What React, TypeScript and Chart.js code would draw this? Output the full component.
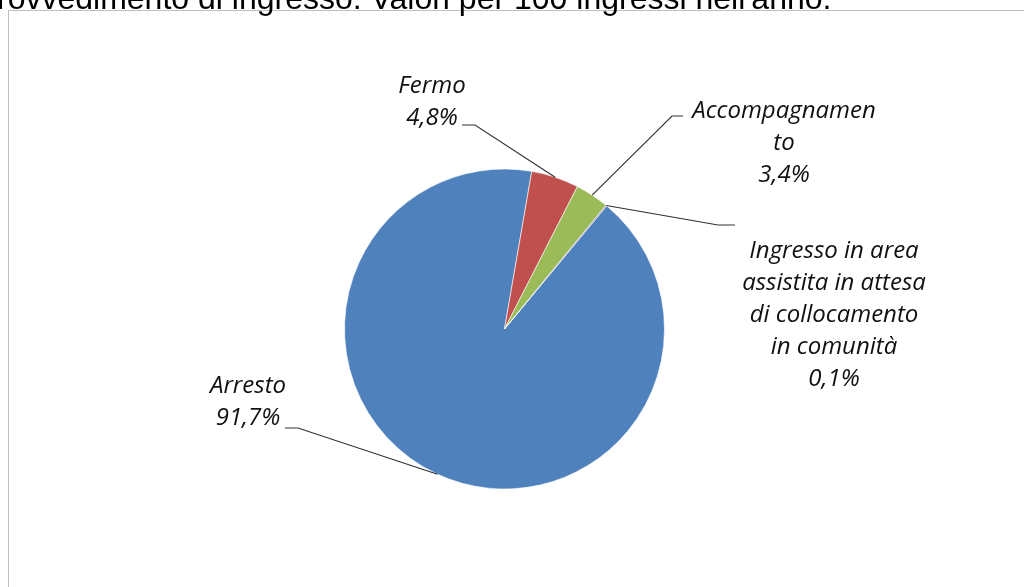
import React, { useEffect, useRef } from "react";
import { Chart, registerables } from "chart.js";

Chart.register(...registerables);

const TITLE = "rovvedimento di ingresso. Valori per 100 ingressi nell'anno.";

const categories = [
  "Arresto",
  "Fermo",
  "Accompagnamento",
  "Ingresso in area assistita in attesa di collocamento in comunità",
];
const values = [91.7, 4.8, 3.4, 0.1];
const colors = ["#4F81BD", "#C0504D", "#9BBB59", "#8064A2"];
const nameLines = [
  ["Arresto"],
  ["Fermo"],
  ["Accompagnamen", "to"],
  ["Ingresso in area", "assistita in attesa", "di collocamento", "in comunità"],
];

const pct = (v: number) => v.toFixed(1).replace(".", ",") + "%";

// label layout: centre x, first baseline, elbow points (text side -> arc side)
const labelLayout = [
  { cx: 248, y0: 393, elbow: [[285, 428], [298, 428]] },
  { cx: 432, y0: 93, elbow: [[462, 125], [475, 125]] },
  { cx: 784, y0: 118, elbow: [[683, 116], [672, 116]] },
  { cx: 834, y0: 258, elbow: [[735, 225], [718, 225]] },
];

const LABEL_FONT = "italic 24px 'Open Sans'";
const LINE_H = 32;

const decorPlugin = {
  id: "decor",
  beforeDraw(chart: any) {
    const ctx = chart.ctx;
    ctx.save();
    ctx.fillStyle = "#ffffff";
    ctx.fillRect(0, 0, chart.width, chart.height);
    ctx.strokeStyle = "#BFBFBF";
    ctx.lineWidth = 1;
    ctx.strokeRect(8.5, 10.5, 1200, 800);
    ctx.fillStyle = "#000000";
    ctx.font = "32px 'Liberation Sans'";
    ctx.textBaseline = "alphabetic";
    ctx.textAlign = "left";
    ctx.fillText(TITLE, -3, 8.7);
    ctx.restore();
  },
  afterDraw(chart: any) {
    const ctx = chart.ctx;
    const meta = chart.getDatasetMeta(0);
    ctx.save();
    meta.data.forEach((arc: any, i: number) => {
      const lay = labelLayout[i];
      const mid = (arc.startAngle + arc.endAngle) / 2;
      const ax = arc.x + Math.cos(mid) * arc.outerRadius;
      const ay = arc.y + Math.sin(mid) * arc.outerRadius;
      ctx.strokeStyle = "#303030";
      ctx.lineWidth = 1.1;
      ctx.beginPath();
      ctx.moveTo(lay.elbow[0][0], lay.elbow[0][1]);
      ctx.lineTo(lay.elbow[1][0], lay.elbow[1][1]);
      ctx.lineTo(ax, ay);
      ctx.stroke();
      const lines = [...nameLines[i], pct(values[i])];
      ctx.fillStyle = "#111111";
      ctx.font = LABEL_FONT;
      ctx.textAlign = "center";
      ctx.textBaseline = "alphabetic";
      lines.forEach((t, k) => ctx.fillText(t, lay.cx, lay.y0 + k * LINE_H));
    });
    ctx.restore();
  },
};

export default function App() {
  const ref = useRef<HTMLCanvasElement>(null);
  useEffect(() => {
    if (!ref.current) return;
    const chart = new Chart(ref.current, {
      type: "pie",
      data: {
        labels: categories,
        datasets: [
          {
            data: values,
            backgroundColor: colors,
            borderColor: "#ffffff",
            borderWidth: 0.6,
          },
        ],
      },
      options: {
        responsive: false,
        animation: false,
        devicePixelRatio: 1,
        rotation: 39.7,
        radius: 160,
        layout: { padding: { left: 344.5, right: 359.5, top: 169, bottom: 98 } },
        plugins: {
          legend: { display: false },
          tooltip: { enabled: false },
        },
      },
      plugins: [decorPlugin],
    });
    return () => chart.destroy();
  }, []);
  return (
    <div style={{ position: "absolute", left: 0, top: 0, width: 1024, height: 587, overflow: "hidden" }}>
      <canvas ref={ref} width={1024} height={587} style={{ display: "block" }} />
    </div>
  );
}
